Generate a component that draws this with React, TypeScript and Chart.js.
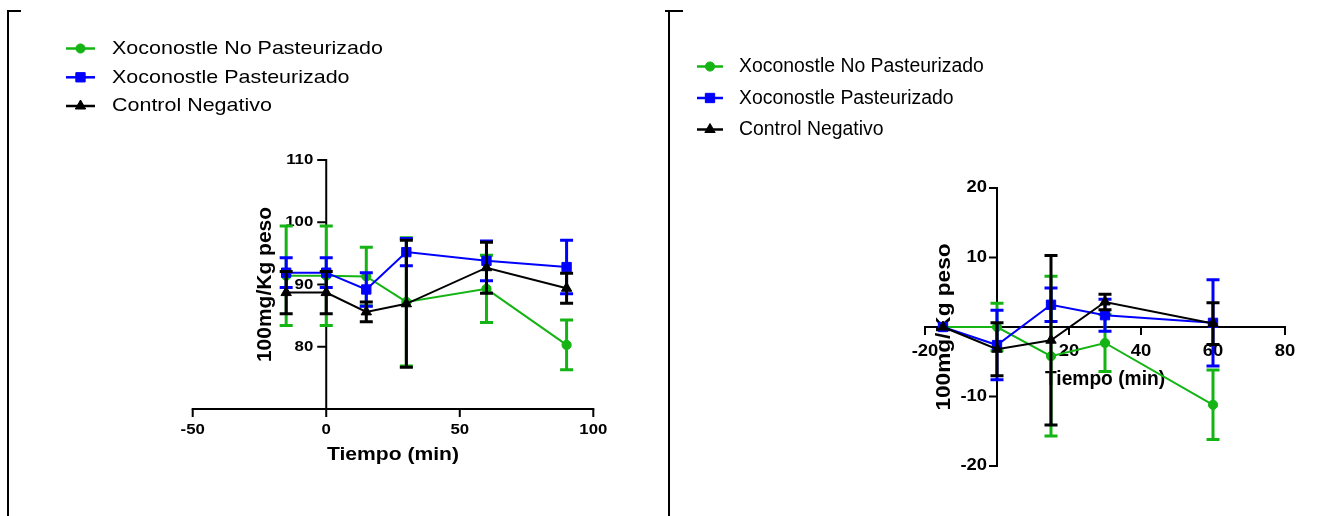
import React, { useEffect, useRef } from 'react';
import { Chart, registerables } from 'chart.js';

Chart.register(...registerables);

// ---------------- data ----------------
const seriesNames = ['Xoconostle No Pasteurizado', 'Xoconostle Pasteurizado', 'Control Negativo'];
const seriesColors = ['#14b414', '#0000ff', '#000000'];
const seriesMarkers = ['circle', 'rect', 'triangle'];

// left panel (absolute values)
const leftTimes = [-15, 0, 15, 30, 60, 90];
const leftNoPast = [91.4, 91.4, 91.3, 87.2, 89.3, 80.3];
const leftNoPastErr = [8.0, 8.0, 4.7, 10.3, 5.4, 4.0];
const leftPast = [91.9, 91.9, 89.2, 95.2, 93.8, 92.8];
const leftPastErr = [2.4, 2.4, 2.7, 2.2, 3.2, 4.3];
const leftCtrl = [88.7, 88.7, 85.6, 86.9, 92.7, 89.4];
const leftCtrlErr = [3.4, 3.4, 1.6, 10.2, 4.1, 2.4];
const leftXTicks = [-50, 0, 50, 100];
const leftYTicks = [80, 90, 100, 110];

// right panel (change from baseline)
const rightTimes = [-15, 0, 15, 30, 60];
const rightNoPast = [0, 0, -4.2, -2.3, -11.2];
const rightNoPastErr = [0, 3.4, 11.5, 4.1, 5.0];
const rightPast = [0, -2.6, 3.2, 1.7, 0.6];
const rightPastErr = [0, 5.0, 2.4, 2.3, 6.2];
const rightCtrl = [0, -3.2, -1.9, 3.6, 0.5];
const rightCtrlErr = [0, 3.8, 12.2, 1.1, 3.0];
const rightXTicks = [-20, 20, 40, 60, 80];
const rightYTicks = [-20, -10, 10, 20];

const xTitle = 'Tiempo (min)';
const yTitle = '100mg/Kg peso';

// ---------------- helpers ----------------
const FONT = '"Liberation Sans", Arial, Helvetica, sans-serif';
const POINT_R = [4.6, 6.6, 6.0];

type PanelSpec = {
  times: number[];
  series: { values: number[]; errors: number[] }[];
  padding: { left: number; right: number; top: number; bottom: number };
  xMin: number; xMax: number; yMin: number; yMax: number;
  xAxisAt: number; yAxisAt: number;
  xTicks: number[]; yTicks: number[];
  xTickLen: number; yTickLen: number;
  tickSize: number; tickSx: number;
  xLabelDy: number; yLabelDx: number;
  xTitleSize: number; xTitleSx: number; xTitleDy: number;
  yTitleSize: number; yTitleSx: number; yTitleDx: number;
  legend: { x0: number; x1: number; textX: number; rows: number[]; size: number; sx: number };
};

function drawText(
  ctx: CanvasRenderingContext2D, text: string, x: number, y: number,
  size: number, bold: boolean, align: CanvasTextAlign, sx: number, rot = 0
) {
  ctx.save();
  ctx.font = `${bold ? 'bold ' : ''}${size}px ${FONT}`;
  ctx.fillStyle = '#000';
  ctx.textAlign = align;
  ctx.textBaseline = 'middle';
  ctx.translate(x, y);
  if (rot) ctx.rotate(rot);
  ctx.scale(sx, 1);
  ctx.fillText(text, 0, 0);
  ctx.restore();
}

function drawMarker(ctx: CanvasRenderingContext2D, style: string, x: number, y: number, r: number, color: string) {
  ctx.save();
  ctx.fillStyle = color;
  ctx.strokeStyle = color;
  ctx.lineWidth = 1;
  ctx.beginPath();
  if (style === 'circle') {
    ctx.arc(x, y, r, 0, Math.PI * 2);
  } else if (style === 'rect') {
    const s = Math.SQRT1_2 * r;
    ctx.rect(x - s, y - s, 2 * s, 2 * s);
  } else {
    let a = 0;
    ctx.moveTo(x + Math.sin(a) * r, y - Math.cos(a) * r);
    a += (2 * Math.PI) / 3;
    ctx.lineTo(x + Math.sin(a) * r, y - Math.cos(a) * r);
    a += (2 * Math.PI) / 3;
    ctx.lineTo(x + Math.sin(a) * r, y - Math.cos(a) * r);
    ctx.closePath();
  }
  ctx.fill();
  ctx.stroke();
  ctx.restore();
}

function drawAxes(chart: any, spec: PanelSpec) {
  const ctx: CanvasRenderingContext2D = chart.ctx;
  const xs = chart.scales.x;
  const ys = chart.scales.y;
  const ax = xs.getPixelForValue(spec.yAxisAt);
  const ay = ys.getPixelForValue(spec.xAxisAt);
  const x0 = xs.getPixelForValue(spec.xMin);
  const x1 = xs.getPixelForValue(spec.xMax);
  const y0 = ys.getPixelForValue(spec.yMin);
  const y1 = ys.getPixelForValue(spec.yMax);
  ctx.save();
  ctx.strokeStyle = '#000';
  ctx.lineWidth = 2;
  ctx.lineCap = 'square';
  ctx.beginPath();
  ctx.moveTo(x0, ay);
  ctx.lineTo(x1, ay);
  ctx.moveTo(ax, y1);
  ctx.lineTo(ax, y0);
  ctx.stroke();
  ctx.lineCap = 'butt';
  ctx.beginPath();
  spec.xTicks.forEach((t) => {
    const px = xs.getPixelForValue(t);
    ctx.moveTo(px, ay);
    ctx.lineTo(px, ay + spec.xTickLen);
  });
  spec.yTicks.forEach((t) => {
    const py = ys.getPixelForValue(t);
    ctx.moveTo(ax, py);
    ctx.lineTo(ax - spec.yTickLen, py);
  });
  ctx.stroke();
  ctx.restore();

  spec.xTicks.forEach((t) => {
    drawText(ctx, String(t), xs.getPixelForValue(t), ay + spec.xLabelDy, spec.tickSize, true, 'center', spec.tickSx);
  });
  spec.yTicks.forEach((t) => {
    drawText(ctx, String(t), ax - spec.yLabelDx, ys.getPixelForValue(t), spec.tickSize, true, 'right', spec.tickSx);
  });
  const area = chart.chartArea;
  drawText(ctx, xTitle, (area.left + area.right) / 2, ay + spec.xTitleDy, spec.xTitleSize, true, 'center', spec.xTitleSx);
  drawText(ctx, yTitle, ax - spec.yTitleDx, (area.top + area.bottom) / 2, spec.yTitleSize, true, 'center', spec.yTitleSx, -Math.PI / 2);
}

function drawErrorBars(chart: any, index: number, spec: PanelSpec) {
  const ctx: CanvasRenderingContext2D = chart.ctx;
  const xs = chart.scales.x;
  const ys = chart.scales.y;
  const s = spec.series[index];
  ctx.save();
  ctx.strokeStyle = seriesColors[index];
  ctx.lineWidth = 3;
  ctx.beginPath();
  spec.times.forEach((t, j) => {
    const e = s.errors[j];
    if (!e) return;
    const px = xs.getPixelForValue(t);
    const top = ys.getPixelForValue(s.values[j] + e);
    const bot = ys.getPixelForValue(s.values[j] - e);
    ctx.moveTo(px, top);
    ctx.lineTo(px, bot);
    ctx.moveTo(px - 6.5, top);
    ctx.lineTo(px + 6.5, top);
    ctx.moveTo(px - 6.5, bot);
    ctx.lineTo(px + 6.5, bot);
  });
  ctx.stroke();
  ctx.restore();
}

function drawLegend(chart: any, spec: PanelSpec) {
  const ctx: CanvasRenderingContext2D = chart.ctx;
  const L = spec.legend;
  seriesNames.forEach((name, i) => {
    const y = L.rows[i];
    ctx.save();
    ctx.strokeStyle = seriesColors[i];
    ctx.lineWidth = 2.5;
    ctx.beginPath();
    ctx.moveTo(L.x0, y);
    ctx.lineTo(L.x1, y);
    ctx.stroke();
    ctx.restore();
    drawMarker(ctx, seriesMarkers[i], (L.x0 + L.x1) / 2, y, POINT_R[i], seriesColors[i]);
    drawText(ctx, name, L.textX, y, L.size, false, 'left', L.sx);
  });
}

function buildConfig(spec: PanelSpec): any {
  const datasets = spec.series.map((s, i) => ({
    label: seriesNames[i],
    data: spec.times.map((t, j) => ({ x: t, y: s.values[j] })),
    borderColor: seriesColors[i],
    backgroundColor: seriesColors[i],
    borderWidth: 2,
    pointStyle: seriesMarkers[i],
    pointRadius: POINT_R[i],
    pointBorderWidth: 1,
    pointBorderColor: seriesColors[i],
    pointBackgroundColor: seriesColors[i],
    tension: 0,
    order: 2 - i,
    clip: false,
  }));
  return {
    type: 'line',
    data: { datasets },
    options: {
      animation: false,
      responsive: false,
      maintainAspectRatio: false,
      events: [],
      layout: { padding: spec.padding },
      plugins: { legend: { display: false }, tooltip: { enabled: false }, title: { display: false } },
      scales: {
        x: { type: 'linear', min: spec.xMin, max: spec.xMax, display: false },
        y: { type: 'linear', min: spec.yMin, max: spec.yMax, display: false },
      },
    },
    plugins: [
      {
        id: 'panelDecor',
        beforeDatasetsDraw(chart: any) { drawAxes(chart, spec); },
        beforeDatasetDraw(chart: any, args: any) { drawErrorBars(chart, args.index, spec); },
        afterDraw(chart: any) { drawLegend(chart, spec); },
      },
    ],
  };
}

const leftSpec: PanelSpec = {
  times: leftTimes,
  series: [
    { values: leftNoPast, errors: leftNoPastErr },
    { values: leftPast, errors: leftPastErr },
    { values: leftCtrl, errors: leftCtrlErr },
  ],
  padding: { left: 192.7, right: 74.7, top: 160, bottom: 107 },
  xMin: -50, xMax: 100, yMin: 70, yMax: 110,
  xAxisAt: 70, yAxisAt: 0,
  xTicks: leftXTicks, yTicks: leftYTicks,
  xTickLen: 8, yTickLen: 9,
  tickSize: 15, tickSx: 1.12,
  xLabelDy: 21, yLabelDx: 13,
  xTitleSize: 19, xTitleSx: 1.11, xTitleDy: 46,
  yTitleSize: 20, yTitleSx: 1.05, yTitleDx: 61,
  legend: { x0: 66, x1: 95, textX: 112, rows: [48.5, 77.3, 106], size: 19, sx: 1.13 },
};

const rightSpec: PanelSpec = {
  times: rightTimes,
  series: [
    { values: rightNoPast, errors: rightNoPastErr },
    { values: rightPast, errors: rightPastErr },
    { values: rightCtrl, errors: rightCtrlErr },
  ],
  padding: { left: 257, right: 51, top: 188, bottom: 50 },
  xMin: -20, xMax: 80, yMin: -20, yMax: 20,
  xAxisAt: 0, yAxisAt: 0,
  xTicks: rightXTicks, yTicks: rightYTicks,
  xTickLen: 8, yTickLen: 8,
  tickSize: 16, tickSx: 1.15,
  xLabelDy: 24.5, yLabelDx: 10,
  xTitleSize: 20, xTitleSx: 0.96, xTitleDy: 52.5,
  yTitleSize: 20, yTitleSx: 1.13, yTitleDx: 53,
  legend: { x0: 29, x1: 55, textX: 71, rows: [66.5, 98, 129.5], size: 20, sx: 0.97 },
};

function Panel({ spec, left }: { spec: PanelSpec; left: number }) {
  const ref = useRef<HTMLCanvasElement>(null);
  useEffect(() => {
    const chart = new Chart(ref.current as HTMLCanvasElement, buildConfig(spec));
    return () => chart.destroy();
  }, [spec]);
  return (
    <canvas
      ref={ref}
      width={668}
      height={516}
      style={{ position: 'absolute', left, top: 0, width: 668, height: 516, display: 'block' }}
    />
  );
}

export default function App() {
  const line = (style: React.CSSProperties) => (
    <div style={{ position: 'absolute', background: '#000', ...style }} />
  );
  return (
    <div
      style={{
        position: 'fixed', left: 0, top: 0, width: 1336, height: 516,
        background: '#fff', overflow: 'hidden',
      }}
    >
      <Panel spec={leftSpec} left={0} />
      <Panel spec={rightSpec} left={668} />
      {line({ left: 7, top: 10, width: 2, height: 506 })}
      {line({ left: 7, top: 10, width: 14, height: 2 })}
      {line({ left: 668, top: 10, width: 2, height: 506 })}
      {line({ left: 665, top: 10, width: 18, height: 2 })}
    </div>
  );
}
